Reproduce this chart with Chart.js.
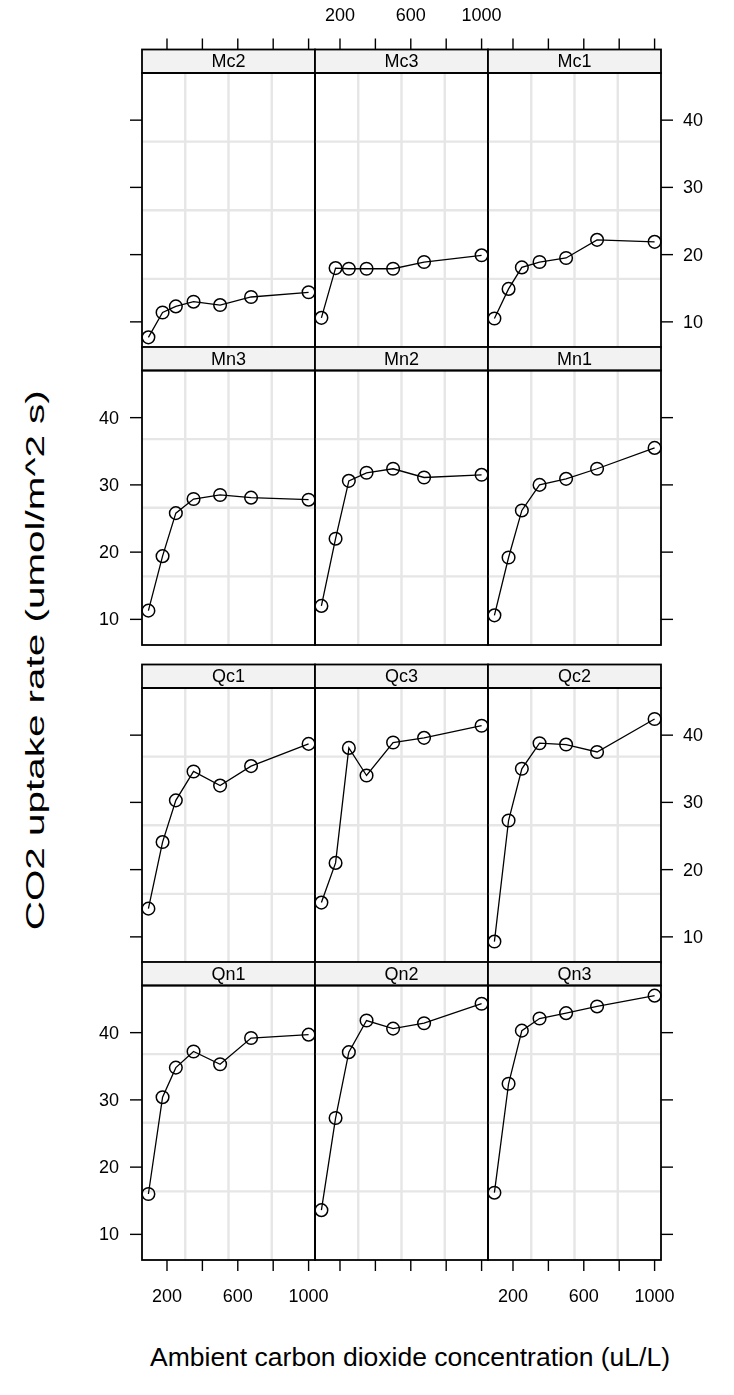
<!DOCTYPE html>
<html>
<head>
<meta charset="utf-8">
<script src="https://cdn.jsdelivr.net/npm/chart.js@4.4.1/dist/chart.umd.min.js"></script>
<style>
  html, body { margin: 0; padding: 0; background: #ffffff; }
  #wrap { position: relative; width: 734px; height: 1395px; overflow: hidden; background: #fff; }
  #wrap canvas { position: absolute; left: 0; top: 0; }
  .title { position: absolute; font-family: "Liberation Sans", Arial, sans-serif; color: #000; white-space: nowrap; line-height: 1; }
</style>
</head>
<body>
<div id="wrap">
  <div class="title" id="xtitle">Ambient carbon dioxide concentration (uL/L)</div>
  <div class="title" id="ytitle">CO2 uptake rate (umol/m^2 s)</div>
</div>
<script>
// ---------------- data ----------------
const conc = [95, 175, 250, 350, 500, 675, 1000];
const Qn1 = [16.0, 30.4, 34.8, 37.2, 35.3, 39.2, 39.7];
const Qn2 = [13.6, 27.3, 37.1, 41.8, 40.6, 41.4, 44.3];
const Qn3 = [16.2, 32.4, 40.3, 42.1, 42.9, 43.9, 45.5];
const Qc1 = [14.2, 24.1, 30.3, 34.6, 32.5, 35.4, 38.7];
const Qc2 = [9.3, 27.3, 35.0, 38.8, 38.6, 37.5, 42.4];
const Qc3 = [15.1, 21.0, 38.1, 34.0, 38.9, 39.6, 41.4];
const Mn1 = [10.6, 19.2, 26.2, 30.0, 30.9, 32.4, 35.5];
const Mn2 = [12.0, 22.0, 30.6, 31.8, 32.4, 31.1, 31.5];
const Mn3 = [11.3, 19.4, 25.8, 27.9, 28.5, 28.1, 27.8];
const Mc1 = [10.5, 14.9, 18.1, 18.9, 19.5, 22.2, 21.9];
const Mc2 = [7.7, 11.4, 12.3, 13.0, 12.5, 13.7, 14.4];
const Mc3 = [10.6, 18.0, 17.9, 17.9, 17.9, 18.9, 19.9];
const plants = { Qn1, Qn2, Qn3, Qc1, Qc2, Qc3, Mn1, Mn2, Mn3, Mc1, Mc2, Mc3 };
const panelRows = [
  ['Mc2', 'Mc3', 'Mc1'],
  ['Mn3', 'Mn2', 'Mn1'],
  ['Qc1', 'Qc3', 'Qc2'],
  ['Qn1', 'Qn2', 'Qn3']
];
const xTicks = [200, 400, 600, 800, 1000];
const xTickLabels = ['200', '', '600', '', '1000'];
const yTicks = [10, 20, 30, 40];
const yTickLabels = ['10', '20', '30', '40'];
const xRange = [58.8, 1036.2];
const yRange = [6.188, 47.012];

// ---------------- layout ----------------
const W = 734, H = 1395;
const colLeft = [142, 315, 488];
const colW = 173;
const panelTop = [73, 370.5, 688, 985.5];
const panelH = 274.5;
const stripH = 23.5;
const tickLen = 11;
const FONT = '"Liberation Sans", Arial, sans-serif';
const tickFont = '18px ' + FONT;
const stripFont = '18px ' + FONT;

const latticePlugin = {
  id: 'lattice',
  beforeDatasetsDraw(chart) {
    const a = chart.chartArea;
    const ctx = chart.ctx;
    ctx.save();
    ctx.strokeStyle = '#e6e6e6';
    ctx.lineWidth = 2.4;
    for (let k = 1; k <= 3; k++) {
      const gx = a.left + (a.right - a.left) * k / 4;
      const gy = a.top + (a.bottom - a.top) * k / 4;
      ctx.beginPath(); ctx.moveTo(gx, a.top); ctx.lineTo(gx, a.bottom); ctx.stroke();
      ctx.beginPath(); ctx.moveTo(a.left, gy); ctx.lineTo(a.right, gy); ctx.stroke();
    }
    ctx.restore();
  },
  afterDatasetsDraw(chart) {
    const o = chart.options.plugins.lattice;
    const a = chart.chartArea;
    const ctx = chart.ctx;
    const xs = chart.scales.x, ys = chart.scales.y;
    ctx.save();
    // strip
    const sTop = a.top - stripH;
    ctx.fillStyle = '#f2f2f2';
    ctx.fillRect(a.left, sTop, a.right - a.left, stripH);
    ctx.strokeStyle = '#000';
    ctx.lineWidth = 1.8;
    ctx.strokeRect(a.left, sTop, a.right - a.left, stripH);
    ctx.fillStyle = '#000';
    ctx.font = stripFont;
    ctx.textAlign = 'center';
    ctx.textBaseline = 'middle';
    ctx.fillText(o.name, (a.left + a.right) / 2, sTop + stripH / 2 + 1);
    // panel border
    ctx.strokeRect(a.left, a.top, a.right - a.left, a.bottom - a.top);
    // ticks
    ctx.lineWidth = 1.4;
    ctx.font = tickFont;
    if (o.row === 0) {
      xTicks.forEach((v, i) => {
        const px = xs.getPixelForValue(v);
        ctx.beginPath(); ctx.moveTo(px, sTop); ctx.lineTo(px, sTop - tickLen); ctx.stroke();
        if (o.col === 1 && xTickLabels[i]) {
          ctx.textAlign = 'center'; ctx.textBaseline = 'middle';
          ctx.fillText(xTickLabels[i], px, 16);
        }
      });
    }
    if (o.row === 3) {
      xTicks.forEach((v, i) => {
        const px = xs.getPixelForValue(v);
        ctx.beginPath(); ctx.moveTo(px, a.bottom); ctx.lineTo(px, a.bottom + tickLen); ctx.stroke();
        if (o.col !== 1 && xTickLabels[i]) {
          ctx.textAlign = 'center'; ctx.textBaseline = 'middle';
          ctx.fillText(xTickLabels[i], px, 1297);
        }
      });
    }
    if (o.col === 0) {
      yTicks.forEach((v, i) => {
        const py = ys.getPixelForValue(v);
        ctx.beginPath(); ctx.moveTo(a.left, py); ctx.lineTo(a.left - tickLen - 1, py); ctx.stroke();
        if (o.row === 1 || o.row === 3) {
          ctx.textAlign = 'right'; ctx.textBaseline = 'middle';
          ctx.fillText(yTickLabels[i], a.left - 23, py + 1);
        }
      });
    }
    if (o.col === 2) {
      yTicks.forEach((v, i) => {
        const py = ys.getPixelForValue(v);
        ctx.beginPath(); ctx.moveTo(a.right, py); ctx.lineTo(a.right + tickLen + 1, py); ctx.stroke();
        if (o.row === 0 || o.row === 2) {
          ctx.textAlign = 'left'; ctx.textBaseline = 'middle';
          ctx.fillText(yTickLabels[i], a.right + 22, py + 1);
        }
      });
    }
    ctx.restore();
  }
};

const wrap = document.getElementById('wrap');
panelRows.forEach((rowNames, r) => {
  rowNames.forEach((name, c) => {
    const cv = document.createElement('canvas');
    cv.width = W; cv.height = H;
    cv.style.width = W + 'px'; cv.style.height = H + 'px';
    wrap.appendChild(cv);
    const left = colLeft[c], top = panelTop[r];
    const vals = plants[name];
    new Chart(cv, {
      type: 'line',
      data: {
        datasets: [{
          data: conc.map((x, i) => ({ x: x, y: vals[i] })),
          borderColor: '#000',
          borderWidth: 1.3,
          pointRadius: 6.3,
          pointBorderWidth: 1.5,
          pointBorderColor: '#000',
          pointBackgroundColor: 'rgba(0,0,0,0)',
          tension: 0,
          fill: false,
          clip: false
        }]
      },
      options: {
        responsive: false,
        animation: false,
        devicePixelRatio: 1,
        layout: { padding: { left: left, top: top, right: W - left - colW, bottom: H - top - panelH } },
        scales: {
          x: { type: 'linear', min: xRange[0], max: xRange[1], display: false },
          y: { type: 'linear', min: yRange[0], max: yRange[1], display: false }
        },
        plugins: {
          legend: { display: false },
          tooltip: { enabled: false },
          lattice: { name: name, row: r, col: c }
        }
      },
      plugins: [latticePlugin]
    });
  });
});

const xt = document.getElementById('xtitle');
xt.style.fontSize = '26.5px';
const yt = document.getElementById('ytitle');
yt.style.fontSize = '26.5px';
(function placeTitles() {
  const xw = xt.offsetWidth, xh = xt.offsetHeight;
  xt.style.left = (410 - xw / 2) + 'px';
  xt.style.top = (1357 - xh / 2) + 'px';
  const yw = yt.offsetWidth, yh = yt.offsetHeight;
  const targetLen = 540;
  yt.style.left = (35 - yw / 2) + 'px';
  yt.style.top = (660 - yh / 2) + 'px';
  yt.style.transform = 'rotate(-90deg) scaleX(' + (targetLen / yw).toFixed(3) + ')';
})();
</script>
</body>
</html>
